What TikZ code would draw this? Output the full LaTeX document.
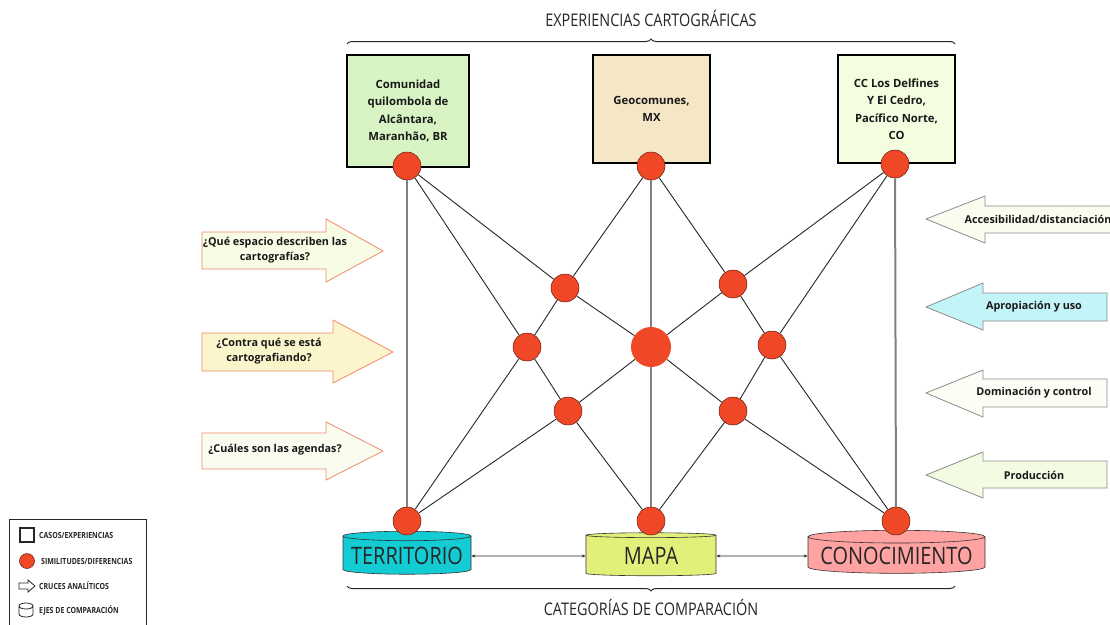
\documentclass[tikz,border=0pt]{standalone}
\usepackage{fontspec}
\setmainfont{Open Sans}
\newfontfamily\condfont[FakeStretch=0.83]{Open Sans}
\usetikzlibrary{shapes.geometric,decorations.pathreplacing,arrows.meta}

\definecolor{cruzred}{HTML}{F04827}
\definecolor{arrowedge}{HTML}{F4896B}
\tikzset{
    caso/.style={draw=black, line width=1.2pt, align=center, text=black!90,
        font=\bfseries\fontsize{11.3}{17.5}\selectfont, inner sep=2pt},
    cruce/.style={circle, fill=cruzred, draw=black!60!cruzred, line width=0.5pt,
        minimum size=28pt, inner sep=0pt},
    eje/.style={cylinder, shape border rotate=90, aspect=0.08, draw=black!80,
        line width=0.6pt, minimum height=43pt, text=black!85,
        font=\condfont\fontsize{24}{24}\selectfont},
    diag/.style={draw=black!85, line width=0.9pt},
    vert/.style={draw=black!50, line width=2pt},
    pregunta/.style={draw=arrowedge, line width=0.8pt},
    eje-cruce/.style={draw=black!45, line width=0.8pt},
    arrowtext/.style={align=center, text=black!90, font=\bfseries\fontsize{10.8}{15}\selectfont},
    titulo/.style={text=black!85, font=\condfont\fontsize{17.4}{17.4}\selectfont},
    leyenda/.style={anchor=west, inner sep=0pt, text=black!85, font=\condfont\bfseries\fontsize{8.4}{9}\selectfont},
}

\begin{document}
\begin{tikzpicture}[x=1pt, y=-1pt]
\useasboundingbox[fill=white] (0,0) rectangle (1110,624);

% casos
\node[caso, fill={rgb,255:red,216;green,244;blue,196}, minimum width=122pt, minimum height=112pt]
    (alc) at (408,111) {Comunidad\\quilombola de\\Alcântara,\\Maranhão, BR};
\node[caso, fill={rgb,255:red,245;green,230;blue,198}, minimum width=117pt, minimum height=108pt]
    (geo) at (651.5,109) {Geocomunes,\\MX};
\node[caso, fill={rgb,255:red,244;green,253;blue,223}, minimum width=117pt, minimum height=108pt]
    (cco) at (896.5,109) {CC Los Delfines\\Y El Cedro,\\Pacífico Norte,\\CO};

% ejes
\node[eje, fill={rgb,255:red,19;green,203;blue,211}, minimum width=128pt] (ter) at (407,556) {TERRITORIO};
\node[eje, fill={rgb,255:red,226;green,240;blue,122}, minimum width=130pt] (map) at (651,556) {MAPA};
\node[eje, fill={rgb,255:red,255;green,162;blue,162}, minimum width=177pt] (con) at (896.5,556) {CONOCIMIENTO};
\draw[black!85, line width=0.6pt, {Stealth[length=4pt,width=3pt]}-{Stealth[length=4pt,width=3pt]}] (ter.east) -- (map.west);
\draw[black!85, line width=0.6pt, {Stealth[length=4pt,width=3pt]}-{Stealth[length=4pt,width=3pt]}] (map.east) -- (con.west);

% cruces
\node[cruce] (calc) at (407,166) {};
\node[cruce] (cgeo) at (651,166) {};
\node[cruce] (ccco) at (895,164) {};
\node[cruce] (x1) at (565,288) {};
\node[cruce] (x2) at (733,284) {};
\node[cruce] (x3) at (527,347) {};
\node[cruce, draw=none, minimum size=40pt] (x4) at (651,347) {};
\node[cruce] (x5) at (772,345) {};
\node[cruce] (x6) at (568,411) {};
\node[cruce] (x7) at (733,411) {};
\node[cruce] (cter) at (407,521) {};
\node[cruce] (cmap) at (651,521) {};
\node[cruce] (ccon) at (896,521) {};

\draw[vert] (calc) -- (cter);
\draw[vert] (cgeo) -- (x4) -- (cmap);
\draw[vert] (ccco) -- (ccon);
\draw[diag] (calc) -- (x1);
\draw[diag] (calc) -- (x3);
\draw[diag] (cgeo) -- (x1);
\draw[diag] (cgeo) -- (x2);
\draw[diag] (ccco) -- (x2);
\draw[diag] (ccco) -- (x5);
\draw[diag] (x1) -- (x3);
\draw[diag] (x1) -- (x4);
\draw[diag] (x2) -- (x4);
\draw[diag] (x2) -- (x5);
\draw[diag] (x3) -- (x6);
\draw[diag] (x3) -- (cter);
\draw[diag] (x6) -- (x4);
\draw[diag] (x6) -- (cter);
\draw[diag] (x6) -- (cmap);
\draw[diag] (x5) -- (x7);
\draw[diag] (x5) -- (ccon);
\draw[diag] (x7) -- (x4);
\draw[diag] (x7) -- (cmap);
\draw[diag] (x7) -- (ccon);

% llaves
\draw[black!85, line width=1pt, decorate, decoration={brace, amplitude=5pt}] (347,44) -- (955,44);
\node[titulo] (exp) at (651,18) {EXPERIENCIAS CARTOGRÁFICAS};
\draw[black!85, line width=1pt, decorate, decoration={brace, amplitude=5pt}] (955,586) -- (347,586);
\node[titulo] (cat) at (651,607) {CATEGORÍAS DE COMPARACIÓN};

% preguntas
\filldraw[pregunta, fill={rgb,255:red,247;green,252;blue,228}]
    (202,232) -- (326,232) -- (326,219) -- (383,251) -- (326,282) -- (326,269) -- (202,269) -- cycle;
\node[arrowtext] (q1) at (275,250) {¿Qué espacio describen las\\cartografías?};
\filldraw[pregunta, fill={rgb,255:red,251;green,245;blue,204}]
    (202,333) -- (333,333) -- (333,320) -- (393,352) -- (333,383) -- (333,371) -- (202,371) -- cycle;
\node[arrowtext] (q2) at (269,351) {¿Contra qué se está\\cartografiando?};
\filldraw[pregunta, fill={rgb,255:red,249;green,253;blue,240}]
    (202,433) -- (326,433) -- (326,422) -- (383,451) -- (326,480) -- (326,469) -- (202,469) -- cycle;
\node[arrowtext] (q3) at (275,450) {¿Cuáles son las agendas?};

% cruces analiticos
\filldraw[eje-cruce, fill={rgb,255:red,249;green,253;blue,240}]
    (1120,206) -- (985,206) -- (985,196) -- (926,219) -- (985,243) -- (985,233) -- (1120,233) -- cycle;
\node[arrowtext] (r1) at (1038,219) {Accesibilidad/distanciación};
\filldraw[eje-cruce, fill={rgb,255:red,195;green,244;blue,248}]
    (1107,293) -- (983,293) -- (983,283) -- (926,307) -- (983,330) -- (983,321) -- (1107,321) -- cycle;
\node[arrowtext] (r2) at (1034,307) {Apropiación y uso};
\filldraw[eje-cruce, fill={rgb,255:red,253;green,253;blue,246}]
    (1107,379) -- (983,379) -- (983,370) -- (926,393) -- (983,417) -- (983,407) -- (1107,407) -- cycle;
\node[arrowtext] (r3) at (1034,393) {Dominación y control};
\filldraw[eje-cruce, fill={rgb,255:red,243;green,251;blue,227}]
    (1107,461) -- (983,461) -- (983,452) -- (926,475) -- (983,498) -- (983,488) -- (1107,488) -- cycle;
\node[arrowtext] (r4) at (1034,475) {Producción};

% leyenda
\draw[black!85, line width=1pt] (9,519) rectangle (146,640);
\draw[black!85, line width=1.2pt] (20,528) rectangle (34,542);
\node[leyenda] (l1) at (39,535) {CASOS/EXPERIENCIAS};
\node[cruce, minimum size=15pt] (lc) at (27,561) {};
\node[leyenda] (l2) at (41,561) {SIMILITUDES/DIFERENCIAS};
\draw[black!85, line width=0.8pt] (19,583) -- (28,583) -- (28,580) -- (35,586) -- (28,592) -- (28,589) -- (19,589) -- cycle;
\node[leyenda] (l3) at (39,586) {CRUCES ANALÍTICOS};
\draw[black!85, line width=0.8pt] (19,606) -- (19,614) arc[start angle=180, end angle=360, x radius=7, y radius=-3]
    -- (33,606) arc[start angle=0, end angle=360, x radius=7, y radius=-3];
\node[leyenda] (l4) at (39,610) {EJES DE COMPARACIÓN};
\end{tikzpicture}
\end{document}
